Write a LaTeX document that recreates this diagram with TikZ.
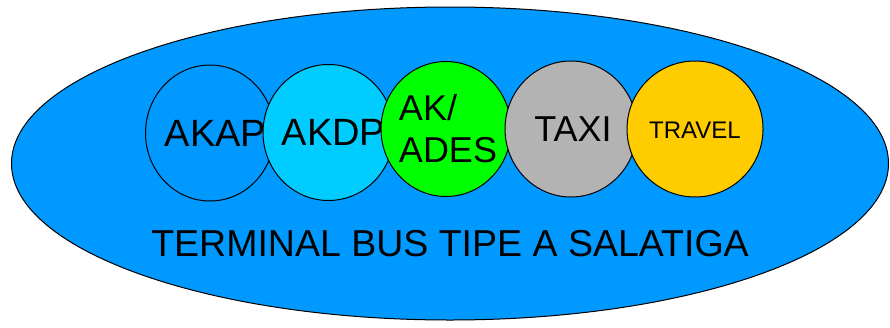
\documentclass[tikz,border=0pt]{standalone}
\usepackage{fontspec}
\setmainfont{Liberation Sans}
\usetikzlibrary{shapes.geometric}
\definecolor{terminalblue}{HTML}{0099FF}
\definecolor{akdpcyan}{HTML}{00CCFF}
\definecolor{akadesgreen}{HTML}{00FF00}
\definecolor{taxigray}{HTML}{B3B3B3}
\definecolor{travelyellow}{HTML}{FFCC00}
\tikzset{
  zone/.style={ellipse, draw=black, line width=1pt, inner sep=0pt,
    minimum width=131pt, minimum height=136pt},
  zonetext/.style={inner sep=0pt, font=\fontsize{38}{42}\selectfont},
}
\begin{document}
\begin{tikzpicture}[x=1pt,y=-1pt]
\useasboundingbox (0,0) rectangle (890,327);
% outer terminal area
\node[ellipse, draw=black, line width=1pt, fill=terminalblue,
  minimum width=877pt, minimum height=313pt, inner sep=0pt] (terminal) at (450,163.5) {};
% service zones, each drawn over the previous one, label included
\node[zone, fill=terminalblue, minimum width=129pt,
  label={[zonetext, xshift=5.5pt]center:AKAP}] (akap) at (210,133) {};
\node[zone, fill=akdpcyan,
  label={[zonetext, xshift=5pt]center:AKDP}] (akdp) at (328.5,132.5) {};
\node[zone, fill=akadesgreen, minimum width=130pt, minimum height=135pt,
  label={[zonetext, font=\fontsize{36}{42}\selectfont, align=left, xshift=2pt]center:AK/\\ADES}] (akades) at (446,129) {};
\node[zone, fill=taxigray, minimum width=132pt,
  label={[zonetext, font=\fontsize{36}{42}\selectfont, xshift=2pt]center:TAXI}] (taxi) at (571,129) {};
\node[zone, fill=travelyellow, minimum width=136pt,
  label={[zonetext, font=\fontsize{24}{28}\selectfont, yshift=-1pt]center:TRAVEL}] (travel) at (695,129) {};
% caption
\node[font=\fontsize{37.5}{42}\selectfont, inner sep=0pt] (caption) at (450,243.8) {TERMINAL BUS TIPE A SALATIGA};
\end{tikzpicture}
\end{document}
